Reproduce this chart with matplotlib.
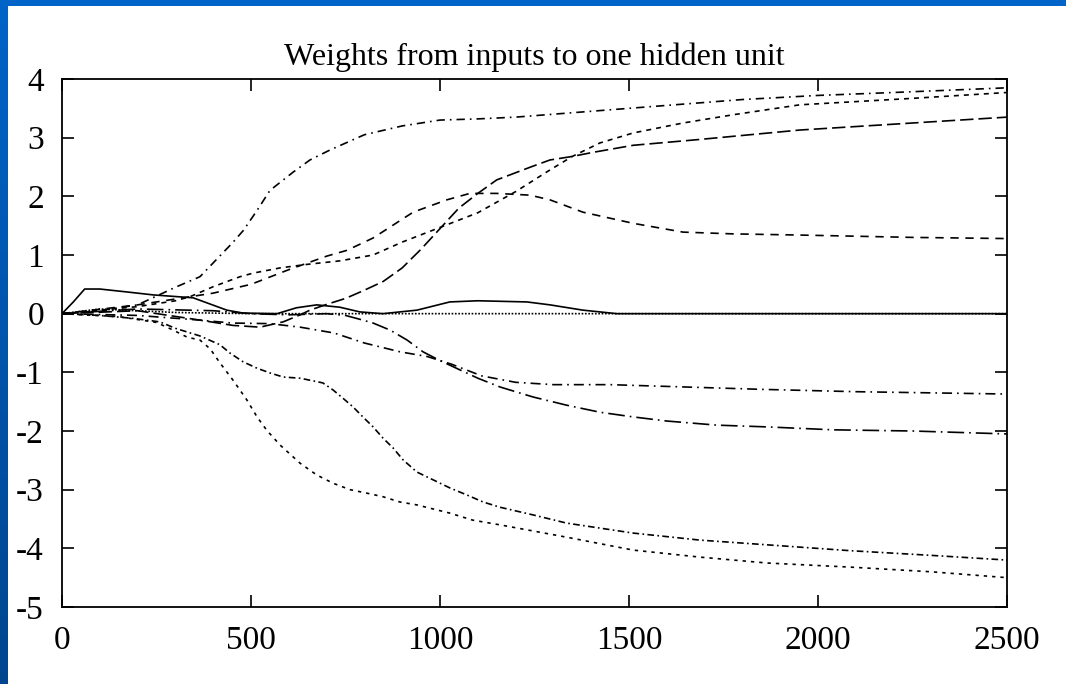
import numpy as np
import matplotlib
matplotlib.use("Agg")
import matplotlib.pyplot as plt

plt.rcParams['axes.unicode_minus'] = False

# Werte (Trainingsschritte, Gewicht)
w1_x = [0, 100, 200, 300, 365, 420, 450, 480, 516, 550, 611, 656, 709, 800, 900, 1000, 1100, 1200, 1400, 1600, 1800, 2000, 2200, 2500]
w1_y = [0, 0.05, 0.15, 0.45, 0.63, 1.0, 1.2, 1.42, 1.76, 2.1, 2.41, 2.62, 2.79, 3.05, 3.2, 3.3, 3.32, 3.35, 3.45, 3.55, 3.65, 3.72, 3.77, 3.85]

w2_x = [0, 200, 300, 339, 400, 471, 505, 577, 648, 735, 823, 900, 1000, 1100, 1200, 1291, 1350, 1423, 1511, 1643, 1775, 1952, 2250, 2500]
w2_y = [0, 0.12, 0.22, 0.29, 0.46, 0.63, 0.69, 0.78, 0.84, 0.9, 1.0, 1.22, 1.47, 1.72, 2.08, 2.45, 2.68, 2.91, 3.08, 3.25, 3.39, 3.56, 3.67, 3.77]

w3_x = [0, 200, 365, 452, 524, 585, 630, 656, 701, 750, 800, 850, 900, 950, 1000, 1050, 1100, 1150, 1240, 1291, 1350, 1405, 1511, 1688, 1952, 2250, 2500]
w3_y = [0, 0.05, -0.11, -0.2, -0.23, -0.14, -0.02, 0.06, 0.16, 0.26, 0.4, 0.55, 0.78, 1.1, 1.45, 1.8, 2.05, 2.28, 2.5, 2.62, 2.68, 2.75, 2.87, 2.97, 3.13, 3.25, 3.35]

w4_x = [0, 200, 400, 500, 600, 700, 754, 823, 929, 1018, 1079, 1150, 1238, 1291, 1378, 1511, 1643, 1775, 1952, 2250, 2500]
w4_y = [0, 0.15, 0.35, 0.5, 0.75, 0.98, 1.08, 1.29, 1.73, 1.94, 2.05, 2.05, 2.02, 1.94, 1.73, 1.54, 1.39, 1.36, 1.34, 1.3, 1.28]

w5_x = [0, 30, 60, 100, 172, 241, 347, 436, 479, 569, 620, 674, 735, 788, 849, 939, 1026, 1100, 1230, 1291, 1378, 1468, 2500]
w5_y = [0, 0.2, 0.42, 0.42, 0.37, 0.32, 0.27, 0.06, 0.01, 0.0, 0.1, 0.15, 0.11, 0.03, 0.0, 0.06, 0.2, 0.22, 0.2, 0.15, 0.06, 0.0, 0.0]

w6_x = [0, 100, 200, 300, 500, 2500]
w6_y = [0, 0.08, 0.05, 0.02, 0.0, 0.0]

w7_x = [0, 200, 365, 450, 550, 630, 720, 800, 894, 966, 1030, 1110, 1200, 1300, 1450, 1650, 1850, 2100, 2500]
w7_y = [0, -0.03, -0.11, -0.16, -0.17, -0.23, -0.33, -0.5, -0.65, -0.73, -0.86, -1.06, -1.17, -1.21, -1.21, -1.25, -1.29, -1.33, -1.37]

w8_x = [0, 200, 400, 500, 600, 700, 750, 796, 823, 868, 913, 955, 1000, 1050, 1100, 1159, 1246, 1335, 1423, 1511, 1600, 1732, 1865, 2040, 2250, 2500]
w8_y = [0, 0.08, 0.05, 0.0, -0.02, 0.0, -0.03, -0.11, -0.16, -0.28, -0.45, -0.65, -0.8, -0.95, -1.1, -1.25, -1.42, -1.56, -1.68, -1.76, -1.83, -1.9, -1.93, -1.98, -2.0, -2.05]

w9_x = [0, 100, 188, 259, 300, 365, 418, 444, 479, 516, 550, 585, 630, 690, 717, 743, 770, 796, 823, 849, 876, 902, 939, 981, 1026, 1071, 1114, 1159, 1246, 1335, 1511, 1688, 1865, 2085, 2300, 2500]
w9_y = [0, -0.03, -0.08, -0.14, -0.25, -0.38, -0.53, -0.67, -0.82, -0.93, -1.01, -1.08, -1.1, -1.18, -1.3, -1.44, -1.59, -1.76, -1.93, -2.12, -2.29, -2.49, -2.7, -2.83, -2.97, -3.09, -3.21, -3.3, -3.43, -3.57, -3.74, -3.86, -3.94, -4.04, -4.12, -4.2]

w10_x = [0, 150, 250, 294, 331, 365, 392, 418, 452, 489, 516, 542, 577, 630, 674, 717, 762, 807, 849, 894, 939, 1026, 1087, 1159, 1335, 1511, 1688, 1865, 2085, 2300, 2500]
w10_y = [0, -0.05, -0.15, -0.28, -0.4, -0.45, -0.6, -0.84, -1.13, -1.47, -1.76, -1.99, -2.24, -2.55, -2.75, -2.89, -3.0, -3.06, -3.12, -3.21, -3.26, -3.4, -3.52, -3.6, -3.81, -4.03, -4.15, -4.25, -4.32, -4.4, -4.5]

weights = [
    (w1_x, w1_y, (0, (5, 3, 1, 3))),
    (w2_x, w2_y, (0, (3, 3))),
    (w3_x, w3_y, (0, (8, 3))),
    (w4_x, w4_y, (0, (5, 4))),
    (w5_x, w5_y, '-'),
    (w6_x, w6_y, (0, (1, 1))),
    (w7_x, w7_y, (0, (6, 3, 1, 3))),
    (w8_x, w8_y, (0, (10, 3, 1, 3))),
    (w9_x, w9_y, (0, (4, 2, 1, 2))),
    (w10_x, w10_y, (0, (2, 3))),
]

serif = ['Liberation Serif', 'DejaVu Serif']

fig = plt.figure(figsize=(10.66, 6.84), dpi=100)
fig.patch.set_facecolor('white')

# blauer Rand oben und links
grad = np.linspace(0, 1, 256).reshape(-1, 1)
bar_l = fig.add_axes([0, 0, 7 / 1066, 1])
bar_l.imshow(grad, aspect='auto', cmap=matplotlib.colors.LinearSegmentedColormap.from_list('b', ['#0064c8', '#00468f']), extent=[0, 1, 0, 1])
bar_l.axis('off')
bar_t = fig.add_axes([0, 1 - 6 / 684, 1, 6 / 684])
bar_t.set_facecolor('#0064c8')
bar_t.set_xticks([])
bar_t.set_yticks([])
for s in bar_t.spines.values():
    s.set_visible(False)

ax = fig.add_axes([62 / 1066, 1 - 607 / 684, 945 / 1066, 528 / 684])
for x, y, ls in weights:
    ax.plot(x, y, color='black', lw=1.2, linestyle=ls)

ax.set_xlim(0, 2500)
ax.set_ylim(-5, 4)
ax.set_xticks([0, 500, 1000, 1500, 2000, 2500])
ax.set_yticks(range(-5, 5))
ax.tick_params(direction='in', length=8.5, width=1.2, top=True, right=True, labelsize=24, pad=13)
for lab in ax.get_xticklabels() + ax.get_yticklabels():
    lab.set_family(serif)
for s in ax.spines.values():
    s.set_linewidth(1.3)

ax.set_title('Weights from inputs to one hidden unit', family=serif, fontsize=23, pad=10)

fig.savefig('out.png', dpi=100, facecolor='white')
